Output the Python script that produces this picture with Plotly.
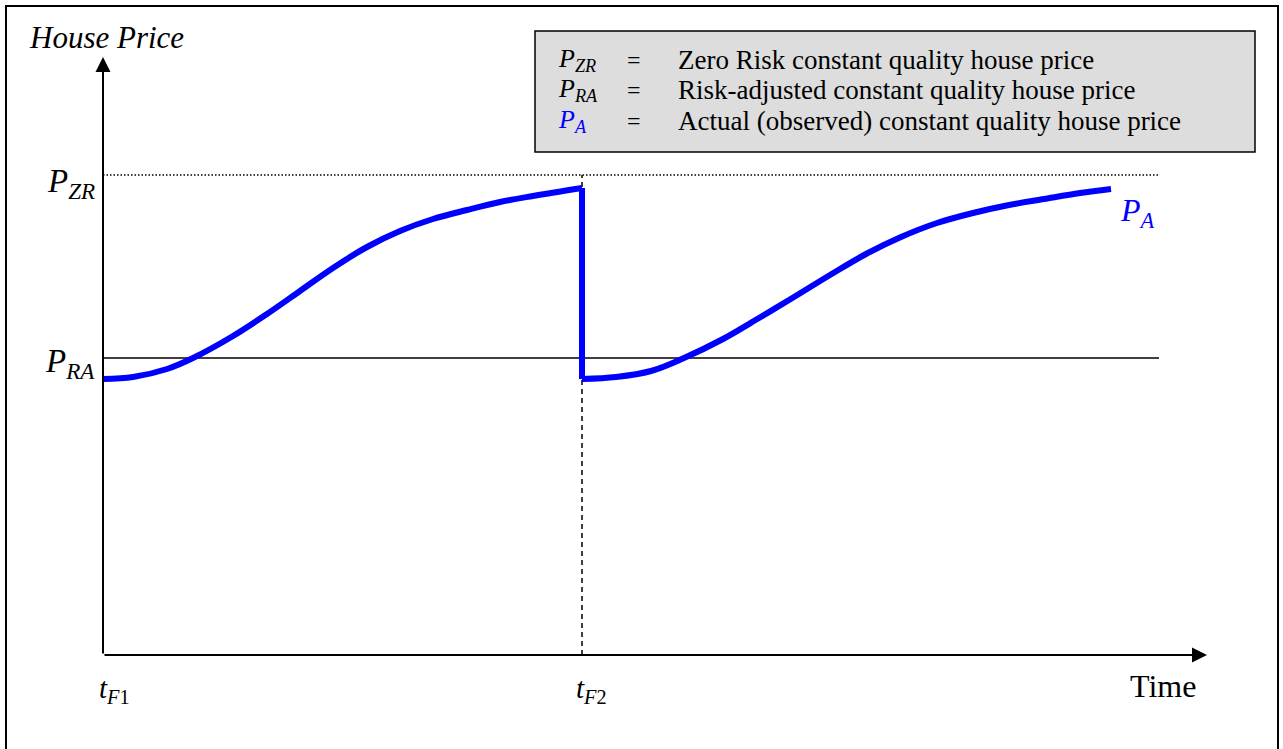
import plotly.graph_objects as go

# ---------------- data (time units / price units) ----------------
t_F1 = 0.0
t_F2 = 47.9
P_RA = 29.7
P_ZR = 48.0
time_axis_end = 110.4
price_axis_end = 59.8
ref_line_end = 105.6

# first cycle of actual price P_A (from t_F1 to t_F2)
seg1_t = [0.0, 3.0, 6.4, 9.0, 13.0, 16.4, 19.7, 23.0, 26.4, 29.7, 33.0, 36.4, 39.7, 43.0, 47.9]
seg1_p = [27.6, 27.8, 28.6, 29.7, 31.9, 34.1, 36.4, 38.7, 40.8, 42.4, 43.6, 44.5, 45.3, 45.9, 46.7]
# drop at t_F2
drop_t = [47.9, 47.9]
drop_p = [46.7, 27.6]
# second cycle after t_F2
seg2_t = [47.9, 51.3, 54.8, 58.1, 62.0, 65.6, 69.1, 72.7, 76.3, 79.8, 83.4, 87.0, 90.6, 94.1, 97.7, 100.8]
seg2_p = [27.6, 27.8, 28.4, 29.7, 31.6, 33.7, 35.8, 38.0, 40.1, 41.8, 43.2, 44.2, 45.0, 45.6, 46.2, 46.6]

legend_symbols = ["<i>P<sub>ZR</sub></i>", "<i>P<sub>RA</sub></i>", "<i>P<sub>A</sub></i>"]
legend_colors = ["black", "black", "#0000FF"]
legend_texts = ["Zero Risk constant quality house price",
                "Risk-adjusted constant quality house price",
                "Actual (observed) constant quality house price"]

FONT = "Liberation Serif, Times New Roman, serif"
BLUE = "#0000FF"

W, H = 1283, 749
ML, MR, MT, MB = 103, 76, 57, 94
pw, ph = W - ML - MR, H - MT - MB


def px(x):
    return (x - ML) / pw


def py(y):
    return (H - MB - y) / ph


fig = go.Figure()

line_style = dict(color=BLUE, width=6)
fig.add_trace(go.Scatter(x=seg1_t, y=seg1_p, mode="lines", line=dict(shape="spline", smoothing=1.0, **line_style),
                         hoverinfo="skip", showlegend=False))
fig.add_trace(go.Scatter(x=drop_t, y=drop_p, mode="lines", line=line_style, hoverinfo="skip", showlegend=False))
fig.add_trace(go.Scatter(x=seg2_t, y=seg2_p, mode="lines", line=dict(shape="spline", smoothing=1.0, **line_style),
                         hoverinfo="skip", showlegend=False))

shapes = [
    # outer frame
    dict(type="rect", xref="paper", yref="paper", x0=px(6), x1=px(1278), y0=py(770), y1=py(6),
         line=dict(color="black", width=2), fillcolor="rgba(0,0,0,0)", layer="below"),
    # P_ZR dotted reference line
    dict(type="line", xref="x", yref="y", x0=t_F1, x1=ref_line_end, y0=P_ZR, y1=P_ZR,
         line=dict(color="black", width=1.5, dash="1.5px,2px"), layer="below"),
    # P_RA solid reference line
    dict(type="line", xref="x", yref="y", x0=t_F1, x1=ref_line_end, y0=P_RA, y1=P_RA,
         line=dict(color="black", width=1.5), layer="below"),
    # t_F2 dashed vertical line
    dict(type="line", xref="x", yref="y", x0=t_F2, x1=t_F2, y0=0, y1=P_ZR,
         line=dict(color="black", width=1.5, dash="5px,4px"), layer="below"),
    # legend box
    dict(type="rect", xref="paper", yref="paper", x0=px(535), x1=px(1255), y0=py(152), y1=py(31),
         line=dict(color="black", width=1.5), fillcolor="#DDDDDD", layer="above"),
]

ann = []
# axes with arrowheads
ann.append(dict(x=0, y=price_axis_end, ax=0, ay=0, xref="x", yref="y", axref="x", ayref="y",
                showarrow=True, arrowhead=2, arrowsize=1.5, arrowwidth=2, arrowcolor="black", text="",
                standoff=0))
ann.append(dict(x=time_axis_end, y=0, ax=0, ay=0, xref="x", yref="y", axref="x", ayref="y",
                showarrow=True, arrowhead=2, arrowsize=1.5, arrowwidth=2, arrowcolor="black", text="",
                standoff=0))

# axis titles
ann.append(dict(x=px(27), y=py(38), xref="paper", yref="paper", xanchor="left", yanchor="middle",
                text="<i>House Price</i>", showarrow=False, font=dict(family=FONT, size=31, color="black")))
ann.append(dict(x=px(1198), y=py(686), xref="paper", yref="paper", xanchor="right", yanchor="middle",
                text="Time", showarrow=False, font=dict(family=FONT, size=32, color="black")))

# y labels
ann.append(dict(x=px(97), y=P_ZR, xref="paper", yref="y", xanchor="right", yanchor="top", yshift=14,
                text="<i>P<sub>ZR</sub></i>", showarrow=False, font=dict(family=FONT, size=33, color="black")))
ann.append(dict(x=px(97), y=P_RA, xref="paper", yref="y", xanchor="right", yanchor="top", yshift=17,
                text="<i>P<sub>RA</sub></i>", showarrow=False, font=dict(family=FONT, size=33, color="black")))
# x labels
ann.append(dict(x=t_F1, y=py(690), xref="x", yref="paper", xanchor="center", yanchor="middle", xshift=11,
                text="<i>t</i><sub><i>F</i>1</sub>", showarrow=False, font=dict(family=FONT, size=29, color="black")))
ann.append(dict(x=t_F2, y=py(690), xref="x", yref="paper", xanchor="center", yanchor="middle", xshift=9,
                text="<i>t</i><sub><i>F</i>2</sub>", showarrow=False, font=dict(family=FONT, size=29, color="black")))
# P_A curve label
ann.append(dict(x=px(1118), y=py(212), xref="paper", yref="paper", xanchor="left", yanchor="middle",
                text="<i>P<sub>A</sub></i>", showarrow=False, font=dict(family=FONT, size=32, color=BLUE)))

# legend rows
row_y = [60, 90, 121]
for sym, col, txt, yy in zip(legend_symbols, legend_colors, legend_texts, row_y):
    ann.append(dict(x=px(556), y=py(yy), xref="paper", yref="paper", xanchor="left", yanchor="middle",
                    text=sym, showarrow=False, font=dict(family=FONT, size=26, color=col)))
    ann.append(dict(x=px(634), y=py(yy), xref="paper", yref="paper", xanchor="center", yanchor="middle",
                    text="=", showarrow=False, font=dict(family=FONT, size=24, color="black")))
    ann.append(dict(x=px(676), y=py(yy), xref="paper", yref="paper", xanchor="left", yanchor="middle",
                    text=txt, showarrow=False, font=dict(family=FONT, size=27, color="black")))

fig.update_layout(
    width=W, height=H, autosize=False,
    margin=dict(l=ML, r=MR, t=MT, b=MB, pad=0),
    paper_bgcolor="white", plot_bgcolor="white",
    xaxis=dict(range=[0, time_axis_end], visible=False, fixedrange=True),
    yaxis=dict(range=[0, price_axis_end], visible=False, fixedrange=True),
    shapes=shapes, annotations=ann, showlegend=False,
)

fig.write_html("out.html", config={"displayModeBar": False},
               post_script="document.body.style.margin='0px';")
